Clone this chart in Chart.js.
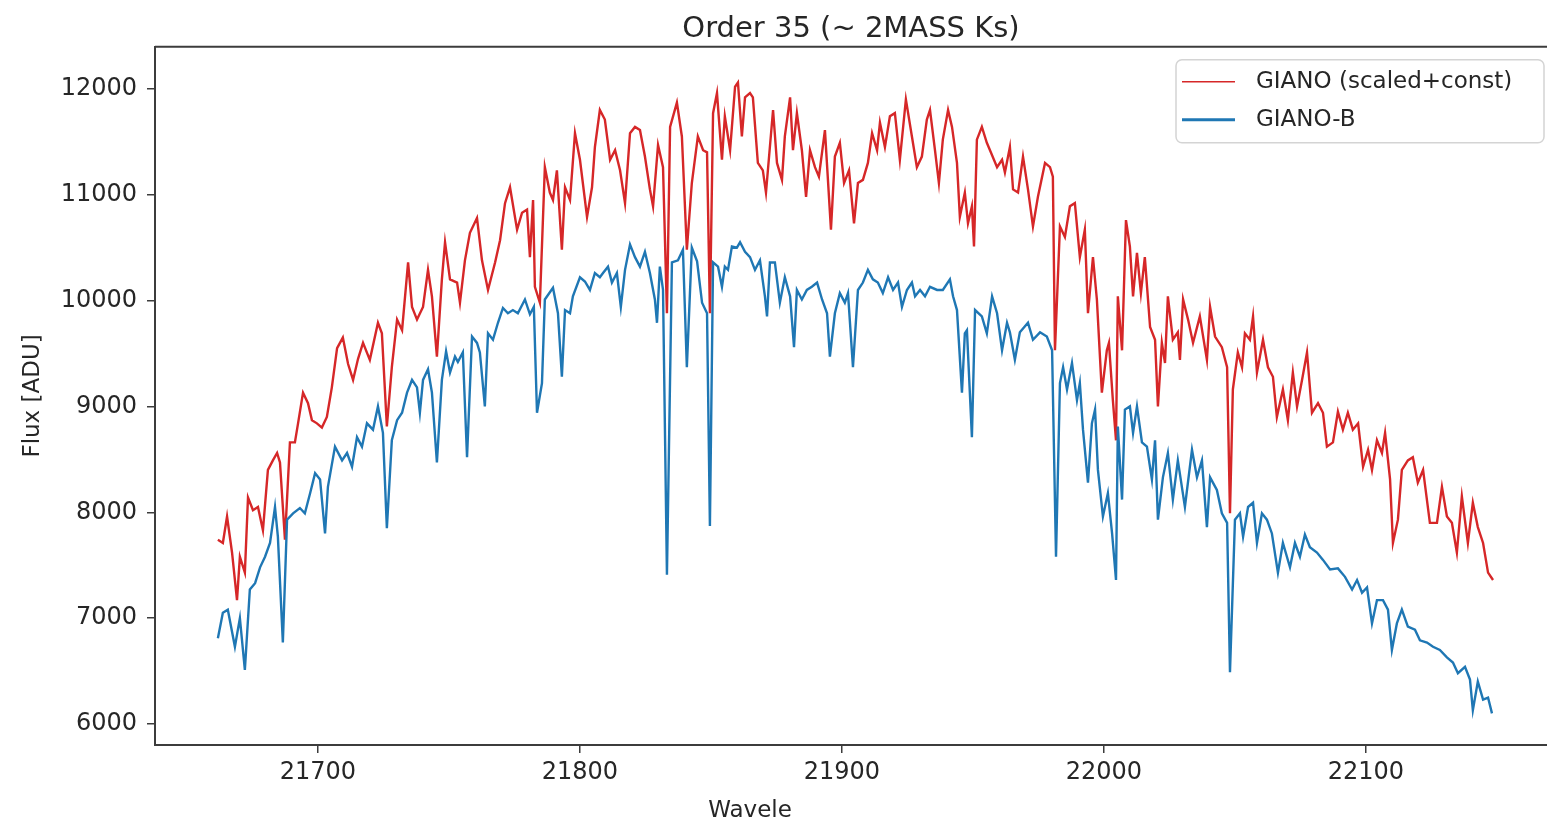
<!DOCTYPE html>
<html>
<head>
<meta charset="utf-8">
<title>Order 35</title>
<script src="https://cdn.jsdelivr.net/npm/chart.js@4.4.1/dist/chart.umd.min.js"></script>
<style>
  html, body { margin: 0; padding: 0; background: #fff; }
  canvas { display: block; }
</style>
</head>
<body>
<canvas id="spectrum" width="1547" height="826"></canvas>
<script>
// values (wavelength in Angstrom, flux in ADU)
var blueWave = [
  21661.8, 21663.7, 21665.6, 21668.3, 21670.2, 21672.1, 21674.0, 21676.0, 21677.9, 21679.8,
  21681.7, 21683.6, 21684.7, 21686.6, 21688.2, 21690.5, 21693.1, 21695.0, 21697.0, 21698.9,
  21700.8, 21702.7, 21703.8, 21706.5, 21709.2, 21711.1, 21713.0, 21714.9, 21716.8, 21718.7,
  21721.0, 21722.9, 21724.8, 21726.3, 21728.2, 21730.2, 21732.1, 21734.0, 21735.9, 21737.8,
  21738.9, 21740.1, 21742.0, 21743.5, 21745.4, 21747.3, 21748.9, 21750.4, 21752.3, 21753.4,
  21755.3, 21756.9, 21758.8, 21760.7, 21761.8, 21763.7, 21764.9, 21766.8, 21768.7, 21770.6,
  21772.5, 21774.4, 21776.3, 21779.0, 21780.9, 21782.4, 21783.6, 21785.5, 21786.6, 21789.7,
  21791.6, 21793.1, 21794.3, 21796.2, 21797.3, 21800.0, 21801.9, 21803.8, 21805.7, 21807.6,
  21808.8, 21810.7, 21812.2, 21814.1, 21815.6, 21817.2, 21819.1, 21821.0, 21822.9, 21824.8,
  21826.7, 21828.6, 21829.4, 21830.5, 21831.7, 21833.2, 21835.1, 21837.4, 21839.3, 21840.8,
  21842.7, 21844.7, 21846.6, 21848.5, 21849.6, 21850.8, 21852.7, 21854.2, 21855.3, 21856.5,
  21858.0, 21859.9, 21861.1, 21863.0, 21864.9, 21866.8, 21868.7, 21870.6, 21871.4, 21872.5,
  21874.4, 21876.3, 21878.2, 21880.2, 21881.7, 21882.8, 21884.7, 21886.6, 21888.5, 21890.5,
  21892.4, 21894.3, 21895.4, 21897.3, 21899.2, 21901.1, 21902.3, 21904.2, 21906.1, 21908.0,
  21909.9, 21911.8, 21913.7, 21915.6, 21917.6, 21919.5, 21921.4, 21922.9, 21924.8, 21926.7,
  21927.9, 21929.8, 21931.7, 21933.6, 21936.3, 21938.5, 21941.2, 21942.4, 21943.9, 21945.8,
  21946.9, 21947.7, 21949.6, 21950.8, 21953.4, 21955.3, 21957.3, 21959.2, 21961.1, 21963.0,
  21964.1, 21966.0, 21967.9, 21971.0, 21972.9, 21975.6, 21978.2, 21980.2, 21981.7, 21983.2,
  21984.4, 21985.9, 21987.8, 21989.7, 21990.8, 21992.0, 21993.9, 21995.4, 21996.6, 21997.7,
  21999.6, 22001.5, 22003.1, 22004.6, 22005.3, 22006.9, 22008.0, 22009.9, 22011.1, 22012.6,
  22014.5, 22016.4, 22018.3, 22019.5, 22020.6, 22022.5, 22024.4, 22026.3, 22028.2, 22030.9,
  22033.6, 22035.5, 22037.4, 22039.3, 22040.5, 22043.1, 22045.0, 22047.0, 22048.1, 22050.0,
  22051.9, 22053.1, 22055.0, 22056.9, 22058.4, 22060.3, 22062.2, 22064.1, 22066.4, 22068.3,
  22071.0, 22072.9, 22074.8, 22076.7, 22078.6, 22081.3, 22083.6, 22086.3, 22089.3, 22092.0,
  22094.7, 22096.6, 22098.5, 22100.4, 22102.3, 22104.2, 22106.5, 22108.4, 22109.9, 22111.8,
  22113.7, 22116.0, 22118.7, 22120.6, 22123.3, 22125.6, 22128.2, 22130.9, 22133.2, 22135.1,
  22137.8, 22139.7, 22140.8, 22142.7, 22144.7, 22146.6, 22148.1
];
var blueFlux = [
  6810, 7050, 7080, 6730, 7000, 6510, 7270, 7330, 7480, 7580,
  7710, 8050, 7770, 6770, 7930, 7990, 8040, 7990, 8180, 8370,
  8310, 7800, 8240, 8620, 8490, 8560, 8430, 8710, 8620, 8840,
  8780, 9000, 8750, 7850, 8680, 8870, 8940, 9130, 9250, 9180,
  8940, 9250, 9350, 9130, 8470, 9250, 9520, 9320, 9470, 9420,
  9510, 8520, 9660, 9600, 9510, 9000, 9690, 9630, 9790, 9930,
  9880, 9910, 9880, 10010, 9870, 9940, 8940, 9220, 10010, 10120,
  9880, 9280, 9910, 9880, 10040, 10220, 10180, 10100, 10260, 10220,
  10260, 10320, 10170, 10260, 9940, 10290, 10530, 10410, 10320, 10460,
  10260, 10010, 9790, 10320, 10100, 7410, 10360, 10380, 10480, 9370,
  10500, 10370, 9980, 9880, 7870, 10360, 10320, 10130, 10320, 10290,
  10510, 10500, 10550, 10460, 10410, 10290, 10380, 10040, 9850, 10360,
  10360, 9980, 10220, 10040, 9560, 10100, 10010, 10100, 10130, 10170,
  10010, 9880, 9470, 9880, 10070, 9980, 10070, 9370, 10100, 10170,
  10290, 10200, 10170, 10070, 10220, 10100, 10170, 9940, 10100, 10170,
  10040, 10100, 10040, 10130, 10100, 10100, 10200, 10040, 9910, 9130,
  9690, 9720, 8710, 9910, 9850, 9690, 10040, 9880, 9530, 9790,
  9700, 9440, 9700, 9790, 9630, 9700, 9660, 9530, 7580, 9220,
  9370, 9160, 9410, 9060, 9220, 8780, 8280, 8840, 8970, 8400,
  7960, 8180, 7800, 7360, 8810, 8120, 8970, 9000, 8750, 9000,
  8660, 8620, 8310, 8680, 7930, 8330, 8560, 8120, 8490, 8050,
  8590, 8330, 8490, 7860, 8330, 8210, 7990, 7900, 6490, 7930,
  7990, 7770, 8050, 8090, 7710, 7990, 7930, 7800, 7430, 7710,
  7480, 7710, 7580, 7790, 7670, 7620, 7550, 7460, 7470, 7390,
  7270, 7360, 7240, 7290, 6950, 7170, 7170, 7080, 6700, 6950,
  7080, 6920, 6890, 6790, 6770, 6730, 6700, 6630, 6580, 6480,
  6540, 6420, 6130, 6400, 6230, 6250, 6100
];

var redWave = [
  21661.8, 21663.7, 21665.3, 21667.2, 21669.1, 21670.2, 21672.1, 21673.3, 21675.2, 21677.1,
  21679.0, 21680.9, 21682.8, 21684.4, 21685.5, 21687.4, 21689.3, 21691.2, 21692.4, 21694.3,
  21696.2, 21697.7, 21699.6, 21701.5, 21703.4, 21705.3, 21707.3, 21709.5, 21711.5, 21713.4,
  21715.3, 21717.2, 21719.8, 21722.9, 21724.4, 21726.3, 21728.2, 21730.2, 21732.1, 21734.4,
  21735.9, 21737.8, 21740.1, 21742.0, 21743.5, 21745.4, 21747.3, 21748.5, 21750.4, 21753.1,
  21754.2, 21756.1, 21758.0, 21760.7, 21762.6, 21764.9, 21767.6, 21769.5, 21771.4, 21773.3,
  21776.0, 21777.9, 21779.8, 21780.9, 21782.1, 21782.8, 21784.7, 21786.6, 21788.5, 21789.7,
  21791.2, 21793.1, 21794.3, 21796.2, 21798.1, 21800.0, 21802.7, 21804.6, 21805.7, 21807.6,
  21809.5, 21811.5, 21813.4, 21815.3, 21817.2, 21819.1, 21821.0, 21822.9, 21824.8, 21826.7,
  21827.9, 21829.8, 21831.7, 21833.2, 21834.4, 21837.0, 21838.9, 21840.8, 21842.7, 21845.0,
  21847.0, 21848.5, 21849.6, 21850.8, 21852.3, 21854.2, 21855.3, 21857.3, 21859.2, 21860.3,
  21861.8, 21863.0, 21864.9, 21866.0, 21867.9, 21869.8, 21871.0, 21873.7, 21875.2, 21877.1,
  21878.2, 21880.2, 21881.3, 21882.8, 21884.7, 21886.3, 21887.8, 21889.7, 21891.2, 21893.5,
  21895.8, 21897.3, 21899.2, 21900.8, 21902.7, 21904.6, 21906.1, 21908.0, 21909.9, 21911.5,
  21913.4, 21914.5, 21916.4, 21918.3, 21920.2, 21922.1, 21924.4, 21926.7, 21928.6, 21930.5,
  21932.4, 21933.6, 21935.5, 21937.0, 21938.5, 21940.5, 21942.0, 21943.9, 21945.0, 21946.9,
  21948.1, 21949.6, 21950.4, 21951.5, 21953.4, 21955.3, 21956.5, 21959.2, 21961.1, 21962.2,
  21964.1, 21965.3, 21967.2, 21969.1, 21971.0, 21972.9, 21974.8, 21977.5, 21979.4, 21980.5,
  21981.3, 21983.2, 21985.1, 21987.0, 21988.9, 21990.8, 21992.7, 21993.9, 21995.8, 21997.3,
  21999.2, 22001.1, 22001.9, 22003.4, 22004.6, 22005.3, 22006.9, 22008.4, 22009.9, 22011.1,
  22012.6, 22014.1, 22015.6, 22017.6, 22019.5, 22020.6, 22022.1, 22023.3, 22024.4, 22026.3,
  22028.2, 22029.0, 22030.2, 22032.1, 22034.0, 22036.6, 22039.3, 22040.5, 22042.4, 22045.0,
  22047.0, 22048.1, 22049.2, 22051.1, 22052.7, 22053.8, 22055.7, 22056.9, 22058.4, 22060.7,
  22062.6, 22064.5, 22066.0, 22068.3, 22070.2, 22072.1, 22073.7, 22075.6, 22077.5, 22079.4,
  22081.7, 22083.6, 22085.1, 22087.4, 22089.3, 22091.2, 22093.1, 22095.0, 22097.0, 22098.9,
  22100.8, 22102.3, 22104.2, 22106.1, 22107.3, 22109.2, 22110.3, 22112.2, 22113.7, 22116.0,
  22117.9, 22119.8, 22121.8, 22124.4, 22127.1, 22129.0, 22130.9, 22132.8, 22134.7, 22136.6,
  22138.9, 22140.8, 22142.7, 22144.7, 22146.6, 22148.5
];
var redFlux = [
  7740, 7710, 7960, 7620, 7170, 7580, 7430, 8140, 8020, 8050,
  7830, 8400, 8490, 8560, 8470, 7740, 8660, 8660, 8840, 9130,
  9030, 8870, 8840, 8800, 8900, 9180, 9550, 9650, 9400, 9250,
  9450, 9600, 9440, 9790, 9690, 8810, 9370, 9820, 9720, 10360,
  9940, 9820, 9940, 10290, 10040, 9470, 10200, 10550, 10200, 10170,
  9980, 10380, 10640, 10780, 10380, 10100, 10360, 10570, 10920, 11070,
  10670, 10830, 10860, 10410, 10950, 10130, 9980, 11260, 11020, 10950,
  11230, 10480, 11070, 10950, 11580, 11330, 10790, 11070, 11450, 11800,
  11710, 11330, 11420, 11230, 10920, 11580, 11640, 11610, 11360, 11050,
  10890, 11470, 11260, 9880, 11640, 11870, 11550, 10480, 11110, 11550,
  11420, 11400, 9880, 11770, 11960, 11330, 11740, 11420, 12020, 12060,
  11550, 11920, 11960, 11920, 11300, 11230, 11020, 11800, 11300, 11140,
  11550, 11920, 11420, 11770, 11420, 10980, 11420, 11260, 11170, 11610,
  10670, 11360, 11490, 11110, 11230, 10730, 11110, 11140, 11300, 11580,
  11420, 11680, 11450, 11740, 11770, 11330, 11900, 11550, 11260, 11360,
  11710, 11800, 11420, 11110, 11520, 11800, 11640, 11300, 10790, 11020,
  10730, 10890, 10510, 11520, 11640, 11490, 11420, 11260, 11330, 11210,
  11450, 11050, 11020, 11360, 11050, 10700, 10980, 11300, 11260, 11170,
  9530, 10700, 10600, 10890, 10920, 10410, 10670, 9880, 10410, 10010,
  9130, 9530, 9600, 9060, 8680, 10040, 9530, 10760, 10510, 10040,
  10450, 10070, 10410, 9750, 9630, 9000, 9600, 9410, 10040, 9630,
  9700, 9440, 10010, 9820, 9600, 9850, 9440, 9940, 9660, 9560,
  9370, 7990, 9160, 9510, 9370, 9690, 9630, 9850, 9320, 9630,
  9370, 9280, 8900, 9160, 8870, 9320, 9000, 9250, 9510, 8940,
  9030, 8940, 8620, 8660, 8950, 8780, 8940, 8780, 8840, 8430,
  8590, 8400, 8680, 8560, 8750, 8310, 7710, 7930, 8400, 8490,
  8520, 8280, 8400, 7900, 7900, 8240, 7960, 7900, 7620, 8150,
  7710, 8090, 7860, 7710, 7430, 7360
];

var xTicks = [21700, 21800, 21900, 22000, 22100];
var yTicks = [6000, 7000, 8000, 9000, 10000, 11000, 12000];

var RED = "#d62728";
var BLUE = "#1f77b4";
var INK = "#262626";
var SPINE = "#3c3c3c";

Chart.defaults.font.family = "'DejaVu Sans', sans-serif";
Chart.defaults.color = INK;

function toPoints(wave, flux) {
  return wave.map((w, i) => ({ x: w, y: flux[i] }));
}

// top spine, matplotlib style legend box and the clipped x label
const extras = {
  id: "extras",
  afterDraw(chart) {
    const ctx = chart.ctx;
    const a = chart.chartArea;
    ctx.save();
    ctx.strokeStyle = SPINE;
    ctx.lineWidth = 2;
    ctx.beginPath();
    ctx.moveTo(a.left, a.top);
    ctx.lineTo(a.right, a.top);
    ctx.stroke();

    // legend
    const bx = a.right - 371, by = a.top + 13, bw = 368, bh = 83;
    ctx.fillStyle = "rgba(255,255,255,0.85)";
    ctx.strokeStyle = "#d4d4d4";
    ctx.lineWidth = 1.5;
    ctx.beginPath();
    ctx.roundRect(bx, by, bw, bh, 6);
    ctx.fill();
    ctx.stroke();
    const widths = [1.6, 3];
    ctx.font = "23px 'DejaVu Sans'";
    ctx.textBaseline = "middle";
    chart.data.datasets.forEach((ds, i) => {
      const y = by + 22 + i * 38;
      ctx.strokeStyle = ds.borderColor;
      ctx.lineWidth = widths[i];
      ctx.beginPath();
      ctx.moveTo(bx + 6, y);
      ctx.lineTo(bx + 59, y);
      ctx.stroke();
      ctx.fillStyle = INK;
      ctx.fillText(ds.label, bx + 80, y);
    });

    ctx.font = "23px 'DejaVu Sans'";
    ctx.textAlign = "center";
    ctx.fillText("Wavele", a.left + 595, a.bottom + 66);
    ctx.restore();
  }
};

new Chart(document.getElementById("spectrum").getContext("2d"), {
  type: "line",
  data: {
    datasets: [
      {
        label: "GIANO (scaled+const)",
        data: toPoints(redWave, redFlux),
        borderColor: RED,
        borderWidth: 2.4,
        pointRadius: 0,
        tension: 0,
        order: 1
      },
      {
        label: "GIANO-B",
        data: toPoints(blueWave, blueFlux),
        borderColor: BLUE,
        borderWidth: 2.4,
        pointRadius: 0,
        tension: 0,
        order: 0
      }
    ]
  },
  options: {
    responsive: false,
    animation: false,
    devicePixelRatio: 1,
    layout: { padding: 0 },
    plugins: {
      legend: { display: false },
      tooltip: { enabled: false },
      title: {
        display: true,
        text: "Order 35 (~ 2MASS Ks)",
        fullSize: false,
        color: INK,
        font: { size: 29, weight: "normal" },
        padding: { top: 12, bottom: 0 }
      }
    },
    scales: {
      x: {
        type: "linear",
        min: 21637.8,
        max: 22169.1,
        afterBuildTicks: (s) => { s.ticks = xTicks.map((v) => ({ value: v })); },
        afterFit: (s) => { s.height = 81; },
        ticks: {
          font: { size: 24 },
          color: INK,
          padding: 5,
          maxRotation: 0,
          callback: (v) => String(v)
        },
        grid: { drawOnChartArea: false, drawTicks: true, tickLength: 8, color: SPINE, lineWidth: 1.5 },
        border: { display: true, color: SPINE, width: 2 }
      },
      y: {
        min: 5801.6,
        max: 12396.9,
        afterBuildTicks: (s) => { s.ticks = yTicks.map((v) => ({ value: v })); },
        afterFit: (s) => { s.width = 155; },
        ticks: {
          font: { size: 24 },
          color: INK,
          padding: 10,
          callback: (v) => String(v)
        },
        title: {
          display: true,
          text: "Flux [ADU]",
          color: INK,
          font: { size: 23 },
          padding: { top: 19, bottom: 0 }
        },
        grid: { drawOnChartArea: false, drawTicks: true, tickLength: 8, color: SPINE, lineWidth: 1.5 },
        border: { display: true, color: SPINE, width: 2 }
      }
    }
  },
  plugins: [extras]
});
</script>
</body>
</html>
